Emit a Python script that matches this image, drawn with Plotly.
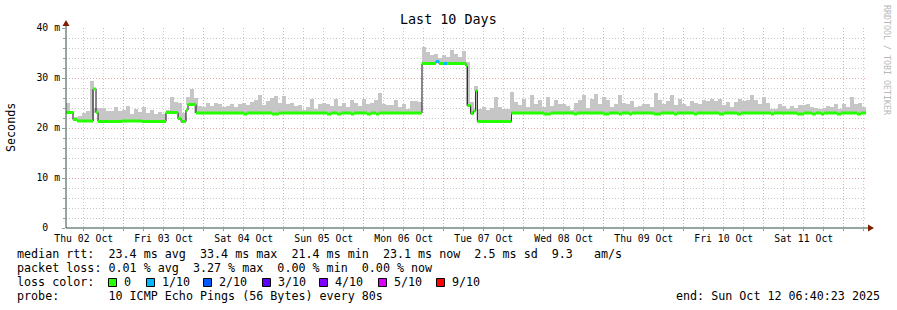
import plotly.graph_objects as go
from datetime import datetime, timedelta

# ---------------- data ----------------
START = datetime(2025, 10, 2, 6, 40, 23)
END = datetime(2025, 10, 12, 6, 40, 23)
BIN_MIN = 72  # smoke bins of 72 minutes

# top of the smoke (max ping rtt) per bin, ms
smoke_top_ms = [
    25.0, 23.5, 22.3, 22.5, 23.0, 23.5, 29.4, 24.0, 24.1, 24.1,
    23.4, 23.5, 24.3, 23.5, 23.7, 24.4, 22.9, 23.9, 23.3, 24.2,
    23.0, 23.7, 22.9, 23.3, 22.8, 23.7, 26.3, 25.3, 25.1, 23.0,
    26.3, 27.9, 26.0, 24.5, 24.3, 25.0, 24.5, 25.0, 24.8, 24.3,
    24.4, 24.8, 24.3, 24.8, 25.1, 24.6, 25.3, 25.6, 26.6, 24.6,
    25.5, 26.1, 26.4, 25.1, 26.4, 24.9, 25.1, 24.4, 24.6, 23.7,
    24.3, 25.9, 23.9, 24.8, 25.1, 24.9, 24.4, 25.9, 24.4, 25.1,
    24.3, 25.6, 25.1, 24.4, 25.9, 24.9, 25.1, 25.7, 27.1, 24.9,
    24.7, 24.6, 25.6, 24.3, 24.9, 23.9, 25.5, 25.5, 25.3, 36.3,
    35.3, 34.6, 34.9, 34.1, 34.6, 34.3, 35.6, 34.9, 34.3, 35.4,
    33.3, 25.3, 28.5, 23.9, 24.3, 23.6, 24.1, 26.3, 24.3, 23.8,
    23.8, 27.3, 25.3, 24.6, 25.9, 24.3, 26.7, 24.9, 25.6, 24.3,
    26.2, 24.4, 25.6, 24.8, 24.8, 24.4, 23.7, 25.1, 25.6, 26.6,
    24.1, 25.9, 26.8, 24.8, 26.3, 25.6, 24.3, 24.8, 26.6, 25.1,
    24.8, 25.5, 24.3, 24.4, 24.8, 24.9, 24.3, 27.1, 25.7, 24.9,
    25.5, 26.6, 24.6, 25.9, 24.8, 24.4, 25.5, 25.1, 24.8, 25.7,
    25.5, 25.9, 25.5, 25.9, 24.6, 25.3, 24.3, 25.3, 25.9, 25.5,
    25.6, 26.6, 25.6, 24.8, 26.3, 25.1, 23.9, 23.9, 24.9, 24.4,
    23.9, 24.4, 24.1, 24.6, 24.6, 24.8, 24.3, 24.1, 23.9, 24.1,
    24.4, 24.3, 24.8, 23.9, 24.8, 24.3, 26.3, 24.8, 25.1, 24.3,
]

# median rtt as steps: start hour (since START), value ms, loss (out of 10)
med_start_h = [
    0.0, 2.1, 3.3, 8.1, 9.0, 9.6, 16.8, 22.8, 30.0, 33.6, 34.5, 36.0, 36.6, 39.0,
    53.4, 54.3, 61.8, 63.9, 78.3, 79.5, 81.3, 82.5, 85.5, 86.4, 90.3, 91.5, 93.0, 93.9,
    106.8, 111.0, 111.9, 113.4, 114.3, 120.0, 120.4, 121.4, 122.2, 122.9, 123.4, 133.6,
    143.4, 145.5, 152.4, 153.3, 161.4, 162.9, 165.9, 166.8, 168.9, 169.8, 176.4, 178.5,
    182.4, 183.3, 188.4, 189.3, 195.9, 197.4, 201.3, 202.5, 211.5, 212.4, 219.3, 221.4,
    223.8, 225.0, 226.5, 227.4, 231.3, 232.5, 237.3, 238.5,
]
med_ms = [
    23.1, 21.7, 21.4, 27.8, 23.1, 21.3, 21.4, 21.3, 23.1, 21.9, 21.3, 23.6, 24.7, 23.0,
    22.8, 23.0, 22.8, 23.0, 22.8, 23.0, 22.8, 23.0, 22.8, 23.0, 22.8, 23.0, 22.8, 23.0,
    32.9, 33.3, 32.9, 32.9, 32.9, 32.4, 24.5, 22.9, 23.4, 27.4, 21.3, 23.0,
    22.8, 23.0, 22.8, 23.0, 22.8, 23.0, 22.8, 23.0, 22.8, 23.0, 22.8, 23.0,
    22.8, 23.0, 22.8, 23.0, 22.8, 23.0, 22.8, 23.0, 22.8, 23.0, 22.8, 23.0,
    22.8, 23.0, 22.8, 23.0, 22.8, 23.0, 22.8, 23.0,
]
med_loss = [0] * len(med_ms)
med_loss[29] = 1
med_loss[31] = 1

day_labels = ["Thu 02 Oct", "Fri 03 Oct", "Sat 04 Oct", "Sun 05 Oct", "Mon 06 Oct",
              "Tue 07 Oct", "Wed 08 Oct", "Thu 09 Oct", "Fri 10 Oct", "Sat 11 Oct"]
y_tick_vals = [0, 10, 20, 30, 40]
y_tick_text = ["0\u00a0\u00a0", "10 m", "20 m", "30 m", "40 m"]

loss_levels = [0, 1, 2, 3, 4, 5, 9]
loss_names = ["0", "1/10", "2/10", "3/10", "4/10", "5/10", "9/10"]
loss_colors = ["#26ff00", "#00b8ff", "#0059ff", "#5e00ff", "#7e00ff", "#dd00ff", "#ff0000"]

stat_lines = [
    "median rtt:  23.4 ms avg  33.4 ms max  21.4 ms min  23.1 ms now  2.5 ms sd  9.3   am/s",
    "packet loss: 0.01 % avg  3.27 % max  0.00 % min  0.00 % now",
]
probe_line = "probe:       10 ICMP Echo Pings (56 Bytes) every 80s"
end_line = "end: Sun Oct 12 06:40:23 2025"
title_text = "Last 10 Days"

# ---------------- geometry ----------------
W, H = 897, 310
L, R, T, B = 66, 866, 28, 228
FONT = "DejaVu Sans Mono"


def px(x):
    return (x - L) / (R - L)


def py(y):
    return (B - y) / (B - T)


def nb(s):
    return s.replace(" ", "\u00a0")


def h2t(h):
    return START + timedelta(hours=h)


def med_at(h):
    v = med_ms[0]
    for s, m in zip(med_start_h, med_ms):
        if s <= h:
            v = m
        else:
            break
    return v


fig = go.Figure()

# smoke
centers, bases, heights = [], [], []
for i, top in enumerate(smoke_top_ms):
    hc = BIN_MIN * (i + 0.5) / 60
    b = med_at(hc)
    centers.append(h2t(hc))
    bases.append(b)
    heights.append(max(top - b, 0))
fig.add_bar(x=centers, y=heights, base=bases, width=BIN_MIN * 60 * 1000,
            marker=dict(color="#c6c6c6", line=dict(width=0)), hoverinfo="skip",
            showlegend=False)

# median black step line
mx = [h2t(h) for h in med_start_h] + [END]
my = med_ms + [med_ms[-1]]
fig.add_scatter(x=mx, y=my, mode="lines", line=dict(color="#101010", width=1, shape="hv"),
                hoverinfo="skip", showlegend=False)

# colored median per loss level
ends_h = med_start_h[1:] + [(END - START).total_seconds() / 3600]
for lvl, col in zip(loss_levels, loss_colors):
    xs, ys = [], []
    for s, e, v, lo in zip(med_start_h, ends_h, med_ms, med_loss):
        if lo == lvl:
            xs += [h2t(s), h2t(e), None]
            ys += [v, v, None]
    if xs:
        fig.add_scatter(x=xs, y=ys, mode="lines", line=dict(color=col, width=3),
                        hoverinfo="skip", showlegend=False, connectgaps=False)

# invisible trace for second x axis
fig.add_scatter(x=[START], y=[0], xaxis="x2", mode="markers",
                marker=dict(opacity=0), hoverinfo="skip", showlegend=False)

# ticks
first_day = datetime(2025, 10, 2)
noons = [first_day + timedelta(days=d, hours=12) for d in range(len(day_labels))]
midnights = [first_day + timedelta(days=d) for d in range(1, 11)]
six_h = []
t = first_day
while t <= END:
    if START <= t and t.hour != 0:
        six_h.append(t)
    t += timedelta(hours=6)

GRAY = "#c8c8c8"
RED = "#e8a4a4"
DASH = "1px,2px"

fig.update_layout(
    width=W, height=H, autosize=False,
    margin=dict(l=L, r=W - R, t=T, b=H - B, pad=0),
    paper_bgcolor="white", plot_bgcolor="white",
    font=dict(family=FONT, size=10, color="black"),
    bargap=0, barmode="overlay",
    xaxis=dict(
        type="date", range=[START, END],
        tickmode="array", tickvals=noons, ticktext=day_labels,
        tickfont=dict(size=9.8, family=FONT, color="black"),
        showgrid=False, zeroline=False, showline=False,
        ticks="outside", ticklen=1, tickcolor="rgba(0,0,0,0)",
        minor=dict(tickmode="array", tickvals=six_h, showgrid=True,
                   gridcolor=GRAY, griddash=DASH, gridwidth=1,
                   ticks="outside", ticklen=2, tickcolor="#999999"),
        fixedrange=True,
    ),
    xaxis2=dict(
        type="date", range=[START, END], overlaying="x", anchor="y", side="bottom",
        tickmode="array", tickvals=midnights, showticklabels=False,
        showgrid=True, gridcolor=RED, griddash=DASH, gridwidth=1,
        ticks="outside", ticklen=2, tickcolor="#d08080",
        zeroline=False, showline=False,
    ),
    yaxis=dict(
        range=[0, 40], tickmode="array", tickvals=y_tick_vals, ticktext=y_tick_text,
        tickfont=dict(size=9.8, family=FONT, color="black"),
        showgrid=True, gridcolor=RED, griddash=DASH, gridwidth=1,
        zeroline=False, showline=False,
        ticks="outside", ticklen=3, tickcolor="#999999",
        minor=dict(tickmode="array", tickvals=[v for v in range(2, 40, 2) if v % 10],
                   showgrid=True, gridcolor=GRAY, griddash=DASH, gridwidth=1,
                   ticks="outside", ticklen=2, tickcolor="#999999"),
        fixedrange=True,
    ),
)

AXIS = "#2c4d43"
ARROW = "#7f1f00"
shapes = [
    dict(type="line", xref="paper", yref="paper", x0=0, x1=0, y0=0, y1=py(22),
         line=dict(color=AXIS, width=1)),
    dict(type="line", xref="paper", yref="paper", x0=0, x1=px(869), y0=0, y1=0,
         line=dict(color=AXIS, width=1)),
    dict(type="path", xref="paper", yref="paper",
         path=f"M {px(62.5)},{py(26)} L {px(69.5)},{py(26)} L {px(66)},{py(20)} Z",
         fillcolor=ARROW, line=dict(color=ARROW, width=0)),
    dict(type="path", xref="paper", yref="paper",
         path=f"M {px(868)},{py(224.5)} L {px(868)},{py(231.5)} L {px(874)},{py(228)} Z",
         fillcolor=ARROW, line=dict(color=ARROW, width=0)),
]

annotations = [
    dict(text=title_text, x=px(448), y=py(19), xref="paper", yref="paper",
         showarrow=False, font=dict(size=13.4, family=FONT), xanchor="center", yanchor="middle"),
    dict(text="Seconds", x=px(11), y=py(127), xref="paper", yref="paper", textangle=-90,
         showarrow=False, font=dict(size=11.7, family=FONT), xanchor="center", yanchor="middle"),
    dict(text=nb("RRDTOOL / TOBI OETIKER"), x=px(887), y=py(60), xref="paper", yref="paper",
         textangle=90, showarrow=False, font=dict(size=8.3, family=FONT, color="#b8b8b8"),
         xanchor="center", yanchor="middle"),
]
LEG_Y = [254, 268, 282, 296]
for line, yy in zip(stat_lines, LEG_Y[:2]):
    annotations.append(dict(text=nb(line), x=px(15), y=py(yy), xref="paper", yref="paper",
                            showarrow=False, font=dict(size=11.7, family=FONT),
                            xanchor="left", yanchor="middle"))
annotations.append(dict(text=nb("loss color:"), x=px(15), y=py(LEG_Y[2]), xref="paper",
                        yref="paper", showarrow=False, font=dict(size=11.7, family=FONT),
                        xanchor="left", yanchor="middle"))
box_left = [108, 146, 203, 262, 319, 378, 436]
for bl, name, col in zip(box_left, loss_names, loss_colors):
    shapes.append(dict(type="rect", xref="paper", yref="paper",
                       x0=px(bl + 0.5), x1=px(bl + 8.5), y0=py(278.5), y1=py(286.5),
                       fillcolor=col, line=dict(color="black", width=1)))
    annotations.append(dict(text=name, x=px(bl + 14), y=py(LEG_Y[2]), xref="paper",
                            yref="paper", showarrow=False, font=dict(size=11.7, family=FONT),
                            xanchor="left", yanchor="middle"))
annotations.append(dict(text=nb(probe_line), x=px(15), y=py(LEG_Y[3]), xref="paper",
                        yref="paper", showarrow=False, font=dict(size=11.7, family=FONT),
                        xanchor="left", yanchor="middle"))
annotations.append(dict(text=nb(end_line), x=px(882), y=py(LEG_Y[3]), xref="paper",
                        yref="paper", showarrow=False, font=dict(size=11.7, family=FONT),
                        xanchor="right", yanchor="middle"))

fig.update_layout(shapes=shapes, annotations=annotations)
fig.write_html("out.html")
